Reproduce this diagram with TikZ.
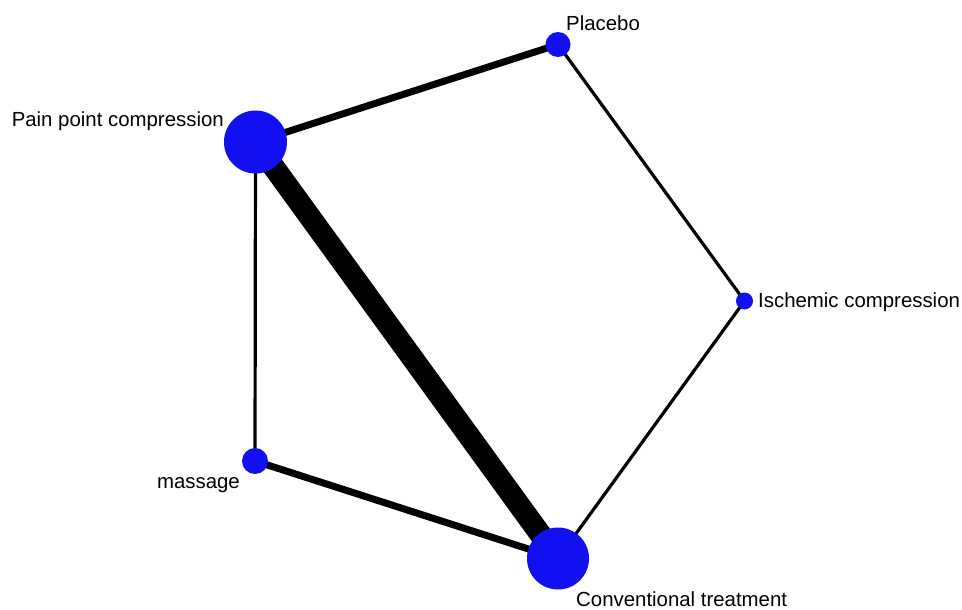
\documentclass[tikz,border=0pt]{standalone}
\usepackage{fontspec}
\setmainfont{Liberation Sans}
\pgfdeclarelayer{bg}
\pgfsetlayers{bg,main}
\definecolor{nodeblue}{RGB}{16,16,240}
\begin{document}
\begin{tikzpicture}[x=1pt,y=-1pt,
  trt/.style={circle,fill=nodeblue,draw=none,inner sep=0pt},
  lbl/.style={inner sep=0pt,font=\fontsize{20.4}{24}\selectfont},
  edge/.style={draw=black,line cap=butt}]
\useasboundingbox (0,0) rectangle (962,610);
\node[trt,minimum size=25pt] (pla) at (558,44.5) {};
\node[trt,minimum size=63pt] (ppc) at (255.5,142) {};
\node[trt,minimum size=17pt] (isc) at (744.5,301) {};
\node[trt,minimum size=26pt] (mas) at (255,461) {};
\node[trt,minimum size=62pt] (con) at (558,558.5) {};
\node[lbl,anchor=base west] (lpla) at (566,31) {Placebo};
\node[lbl,anchor=base east] (lppc) at (224,127) {Pain point compression};
\node[lbl,anchor=base west] (lisc) at (758,307) {Ischemic compression};
\node[lbl,anchor=base east] (lmas) at (240,488) {massage};
\node[lbl,anchor=base west] (lcon) at (576,606) {Conventional treatment};
\begin{pgfonlayer}{bg}
\fill[white] (0,0) rectangle (962,610);
\draw[edge,line width=7pt] (ppc.center) -- (pla.center);
\draw[edge,line width=22pt] (ppc.center) -- (con.center);
\draw[edge,line width=3.2pt] (ppc.center) -- (mas.center);
\draw[edge,line width=7pt] (mas.center) -- (con.center);
\draw[edge,line width=3.2pt] (pla.center) -- (isc.center);
\draw[edge,line width=3.2pt] (isc.center) -- (con.center);
\end{pgfonlayer}
\end{tikzpicture}
\end{document}
